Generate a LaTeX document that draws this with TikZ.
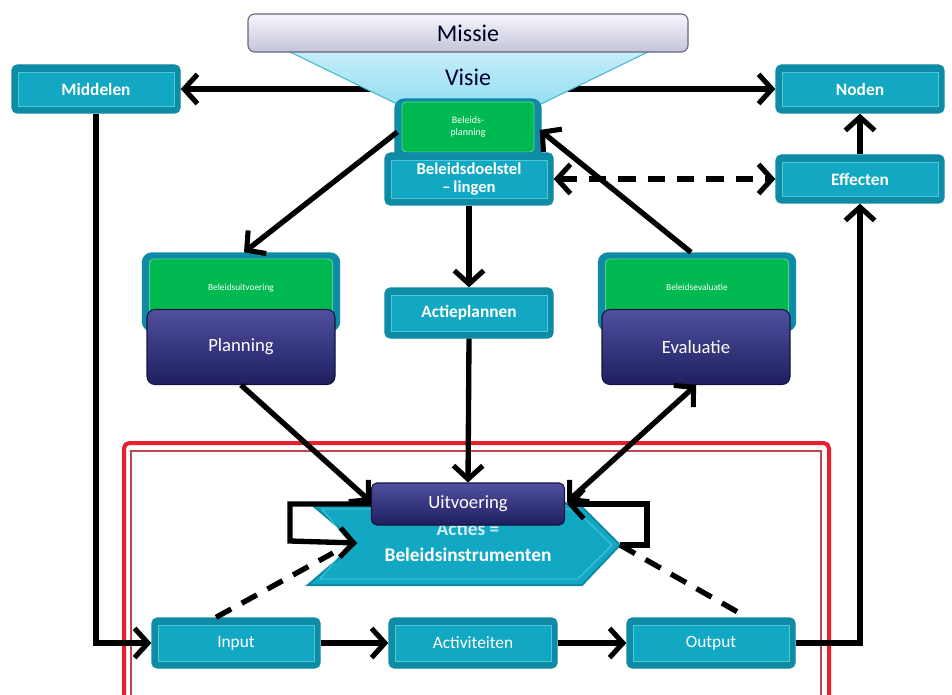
\documentclass[tikz,border=0pt]{standalone}
\usepackage{fontspec}
\setmainfont{Carlito}
\usetikzlibrary{arrows.meta,calc}
\newdimen\px \px=0.75pt
\definecolor{tealO}{RGB}{14,140,165}
\definecolor{tealI}{RGB}{18,168,196}
\definecolor{tealL}{RGB}{80,200,220}
\definecolor{grn}{RGB}{0,185,80}
\definecolor{grnL}{RGB}{90,215,130}
\definecolor{navT}{RGB}{80,80,160}
\definecolor{navB}{RGB}{30,30,95}
\definecolor{navD}{RGB}{20,20,60}
\definecolor{lavT}{RGB}{246,246,252}
\definecolor{lavB}{RGB}{196,196,218}
\definecolor{lavD}{RGB}{100,100,130}
\definecolor{visT}{RGB}{200,238,250}
\definecolor{visB}{RGB}{150,222,242}
\definecolor{visD}{RGB}{70,185,210}
\definecolor{frameR}{RGB}{235,30,45}
\definecolor{frameI}{RGB}{190,70,80}
\tikzset{
  tealout/.style={draw=tealO, fill=tealO, line width=1pt, rounded corners=4pt, inner sep=0pt},
  tealin/.style={draw=tealL, fill=tealI, line width=0.6pt, inner sep=0pt, text=white, align=center},
  grnout/.style={draw=tealO, fill=tealO, line width=1pt, rounded corners=7pt, inner sep=0pt},
  grnin/.style={draw=grnL, fill=grn, line width=0.6pt, rounded corners=3pt, inner sep=0pt, text=white, align=center},
  navbox/.style={draw=navD, line width=0.8pt, top color=navT, bottom color=navB, rounded corners=6pt, inner sep=0pt, text=white, align=center},
  barb/.tip={Straight Barb[length=10pt,width=22pt,line width=3.8pt]},
  arr/.style={line width=4pt, -barb},
  darr/.style={line width=4pt, barb-barb},
  dsh/.style={line width=4pt, dash pattern=on 13pt off 9pt},
  bigb/.style={font=\bfseries\fontsize{13}{14}\selectfont},
  bign/.style={font=\fontsize{13}{14}\selectfont}
}
% name, cx, cy, w, h, fontstyle, text
\newcommand{\tealbox}[7]{%
  \node[tealout, minimum width=#4\px, minimum height=#5\px] (#1) at (#2,#3) {};
  \node[tealin, #6, minimum width={(#4-12)*\px}, minimum height={(#5-14)*\px}] (#1in) at (#2,#3) {#7};
}
\begin{document}
\begin{tikzpicture}[x=0.75pt, y=-0.75pt]
\useasboundingbox (0,0) rectangle (952,695);
\fill[white] (0,0) rectangle (952,695);

% red frame
\draw[frameR, line width=3pt, rounded corners=4pt] (124,700) -- (124,443) -- (829,443) -- (829,700);
\draw[frameI, line width=0.8pt] (131,700) -- (131,451) -- (821,451) -- (821,700);

% top boxes
\tealbox{midd}{96}{89}{168}{48}{bigb}{Middelen}
\tealbox{noden}{860}{89}{168}{48}{bigb}{Noden}
\tealbox{eff}{860}{179}{168}{48}{bigb}{Effecten}

% horizontal line behind Visie
\draw[darr] (midd.east) -- (noden.west);

% Missie / Visie
\shade[top color=visT, bottom color=visB] (286,50) -- (652,50) -- (541,104) -- (397,104) -- cycle;
\draw[visD, line width=0.8pt] (286,50) -- (397,104);
\draw[visD, line width=0.8pt] (652,50) -- (541,104);
\node[text=black!80!blue, font=\fontsize{18}{19}\selectfont] (visie) at (468,77) {Visie};
\node[draw=lavD, line width=0.8pt, top color=lavT, bottom color=lavB, rounded corners=5pt,
      minimum width=440\px, minimum height=38\px, inner sep=0pt, font=\fontsize{18}{19}\selectfont,
      text=black!85!blue] (missie) at (468,33) {Missie};

% Beleidsplanning group
\node[grnout, minimum width=146\px, minimum height=66\px] (bpo) at (468,132) {};
\node[grnin, minimum width=132\px, minimum height=50\px, font=\fontsize{7.5}{9}\selectfont] (bpi) at (468,127) {Beleids-\\planning};
\tealbox{doel}{469}{179}{168}{52}{font=\bfseries\fontsize{12.5}{13}\selectfont}{Beleidsdoelstel\\–\,lingen}

% Beleidsuitvoering group
\node[grnout, minimum width=197\px, minimum height=78\px] (buo) at (241,292) {};
\node[grnin, minimum width=183\px, minimum height=62\px, font=\fontsize{7}{8}\selectfont] (bui) at (241,290) {\raisebox{4pt}{Beleidsuitvoering}};
\node[navbox, minimum width=188\px, minimum height=75\px, font=\fontsize{14}{15}\selectfont] (plan) at (241,347) {Planning};

% Beleidsevaluatie group
\node[grnout, minimum width=197\px, minimum height=78\px] (beo) at (697,292) {};
\node[grnin, minimum width=183\px, minimum height=62\px, font=\fontsize{7}{8}\selectfont] (bei) at (697,290) {\raisebox{4pt}{Beleidsevaluatie}};
\node[navbox, minimum width=188\px, minimum height=75\px, font=\fontsize{14}{15}\selectfont] (eval) at (696,347) {Evaluatie};

% Actieplannen
\tealbox{actie}{469}{313}{168}{50}{bigb}{Actieplannen}

% Acties chevron
\coordinate (notch) at (357,543);
\coordinate (tip) at (620,545);
\filldraw[fill=tealI, draw=tealO, line width=1.5pt] (310,503) -- (578,503) -- (tip) -- (582,585) -- (308,585) -- (notch) -- cycle;
\draw[tealL, line width=0.6pt] (322,509) -- (575,509) -- (612,545) -- (578,579) -- (320,579) -- (350,543) -- cycle;
\node[text=white!80!tealI, font=\bfseries\fontsize{14.5}{15}\selectfont] (acties) at (468,529) {Acties =};
\node[text=white, font=\bfseries\fontsize{14.5}{15}\selectfont] (instr) at (468,555) {Beleidsinstrumenten};

% Uitvoering
\node[navbox, minimum width=193\px, minimum height=42\px, rounded corners=4pt, font=\fontsize{14}{15}\selectfont] (uitv) at (468,504) {Uitvoering};

% bottom row
\tealbox{input}{236}{643}{168}{50}{bign}{Input}
\tealbox{activ}{473}{643}{168}{50}{bign}{Activiteiten}
\tealbox{output}{711}{643}{168}{50}{bign}{Output}

% connectors
\draw[arr] (eff.north) -- (noden.south);
\draw[dsh, barb-barb] (doel.east) -- (eff.west);
\draw[arr] (output.east) -| (eff.south);
\draw[arr] (midd.south) |- (input.west);
\draw[arr] (input.east) -- (activ.west);
\draw[arr] (activ.east) -- (output.west);

\draw[arr] ($(bpo.west)+(3,0)$) -- ($(buo.north)+(3,0)$);
\draw[arr] ($(beo.north)+(-6,0)$) -- ($(bpo.east)+(-2,-2)$);
\draw[arr] (doel.south) -- (actie.north);
\draw[arr] (actie.south) -- (uitv.north);
\draw[arr] (plan.south) -- ($(uitv.west)+(0,-2)$);
\draw[darr] ($(uitv.east)+(2,-2)$) -- (eval.south);

% loops
\draw[arr] (uitv.west) -- (290,504) -- (290,541) -- (notch);
\draw[arr] (tip) -- (647,545) -- (647,504) -- ($(uitv.east)+(2,0)$);

% dashed
\draw[dsh] ($(input.north)+(-20,0)$) -- (333,553);
\draw[dsh] (tip) -- ($(output.north)+(36,0)$);
\end{tikzpicture}
\end{document}
